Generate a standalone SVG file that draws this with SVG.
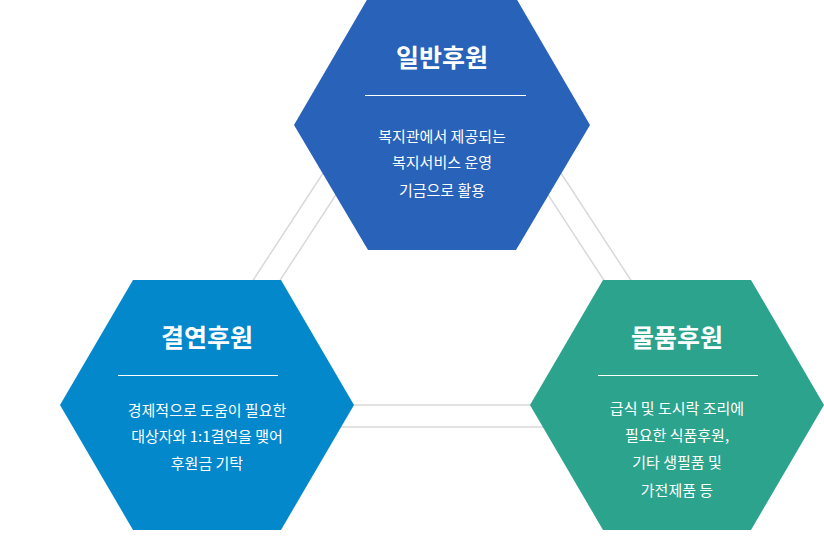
<svg xmlns="http://www.w3.org/2000/svg" width="824" height="550" viewBox="0 0 824 550">
<style>
.t{font-family:"Noto Sans CJK KR","Noto Sans",sans-serif;fill:#fff;text-anchor:middle}
.h{font-size:25px;font-weight:700}
.b{font-size:15px}
.c{stroke:#d9d9d9;stroke-width:1.5;fill:none}
.d{stroke:#fff;stroke-width:1}
</style>
<rect width="824" height="550" fill="#fff"/>
<g id="connectors">
<line class="c" x1="201" y1="360" x2="361" y2="115"/>
<line class="c" x1="228" y1="360" x2="388" y2="115"/>
<line class="c" x1="683" y1="360" x2="523" y2="115"/>
<line class="c" x1="656" y1="360" x2="496" y2="115"/>
<line class="c" x1="250" y1="405" x2="640" y2="405"/>
<line class="c" x1="250" y1="427" x2="640" y2="427"/>
</g>
<g id="general">
<polygon points="294,125 368,-2 516,-2 590,125 516,250 368,250" fill="#2862b9"/>
<text class="t h" x="442" y="67">일반후원</text>
<line class="d" x1="365" y1="95.5" x2="526" y2="95.5"/>
<text class="t b" x="442" y="142">복지관에서 제공되는</text>
<text class="t b" x="442" y="168">복지서비스 운영</text>
<text class="t b" x="442" y="196">기금으로 활용</text>
</g>
<g id="sponsor">
<polygon points="60,405 133,280 281,280 354,405 281,530 133,530" fill="#0388cc"/>
<text class="t h" x="207" y="347">결연후원</text>
<line class="d" x1="118" y1="375.5" x2="278" y2="375.5"/>
<text class="t b" x="207" y="416">경제적으로 도움이 필요한</text>
<text class="t b" x="207" y="442">대상자와 1:1결연을 맺어</text>
<text class="t b" x="207" y="469">후원금 기탁</text>
</g>
<g id="goods">
<polygon points="530,405 603,280 751,280 824,405 751,530 603,530" fill="#2ca38d"/>
<text class="t h" x="677" y="347">물품후원</text>
<line class="d" x1="598" y1="375.5" x2="758" y2="375.5"/>
<text class="t b" x="677" y="414">급식 및 도시락 조리에</text>
<text class="t b" x="677" y="441">필요한 식품후원,</text>
<text class="t b" x="677" y="468">기타 생필품 및</text>
<text class="t b" x="677" y="496">가전제품 등</text>
</g>
</svg>
